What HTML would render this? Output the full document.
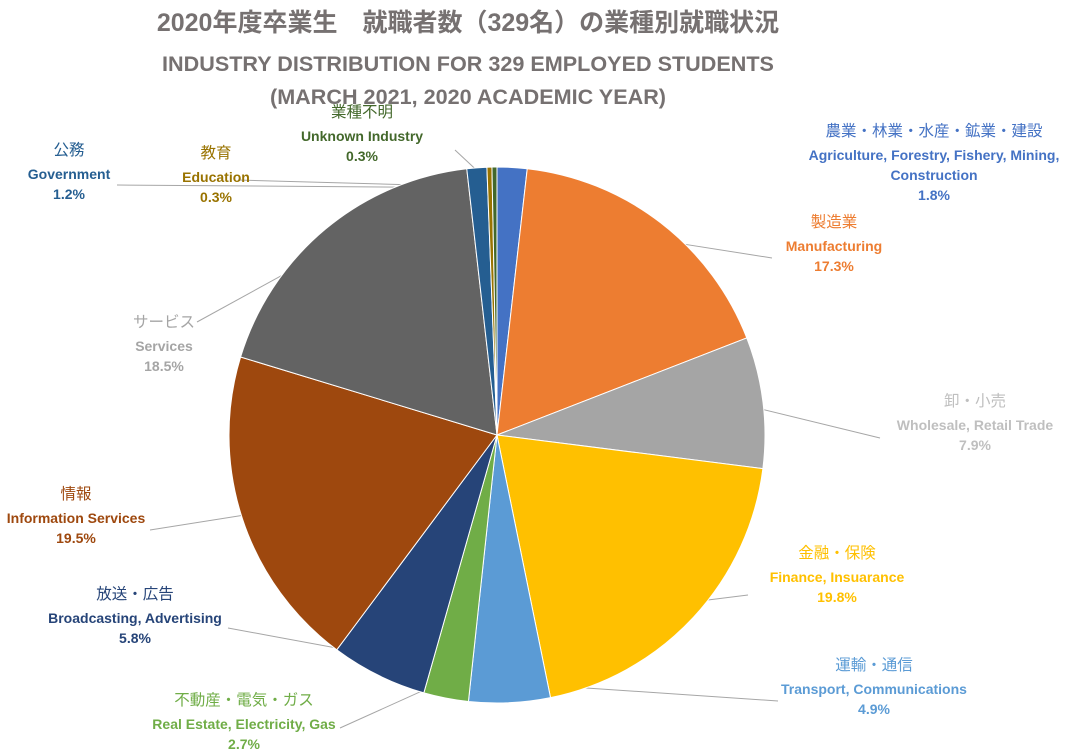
<!DOCTYPE html>
<html><head><meta charset="utf-8">
<style>
body{margin:0;background:#fff;}
svg{display:block;font-family:"Liberation Sans","Noto Sans CJK JP",sans-serif;}
</style></head>
<body>
<svg id="chart" width="1070" height="755" viewBox="0 0 1070 755">
<text x="468" y="31" text-anchor="middle" font-size="25" font-weight="bold" fill="#767171">2020年度卒業生　就職者数（329名）の業種別就職状況</text>
<text x="468" y="71" text-anchor="middle" font-size="21.6" font-weight="bold" fill="#767171">INDUSTRY DISTRIBUTION FOR 329 EMPLOYED STUDENTS</text>
<text x="468" y="104" text-anchor="middle" font-size="21.6" font-weight="bold" fill="#767171">(MARCH 2021, 2020 ACADEMIC YEAR)</text>
<g id="leaders"></g>
<g id="slices"></g>
<g id="labels"></g>
</svg>
<script>
const categoriesJa = ["農業・林業・水産・鉱業・建設","製造業","卸・小売","金融・保険","運輸・通信","不動産・電気・ガス","放送・広告","情報","サービス","公務","教育","業種不明"];
const categoriesEn = [["Agriculture, Forestry, Fishery, Mining,","Construction"],["Manufacturing"],["Wholesale, Retail Trade"],["Finance, Insuarance"],["Transport, Communications"],["Real Estate, Electricity, Gas"],["Broadcasting, Advertising"],["Information Services"],["Services"],["Government"],["Education"],["Unknown Industry"]];
const shares = [1.8,17.3,7.9,19.8,4.9,2.7,5.8,19.5,18.5,1.2,0.3,0.3];
const sliceColors = ["#4472C4","#ED7D31","#A5A5A5","#FFC000","#5B9BD5","#70AD47","#264478","#9E480E","#636363","#255E91","#997300","#43682B"];
const textColors = ["#4472C4","#ED7D31","#BFBFBF","#FFC000","#5B9BD5","#70AD47","#264478","#9E480E","#A5A5A5","#255E91","#997300","#43682B"];
const labelPos = [[934,131],[834,222],[975,401],[837,553],[874,665],[244,700],[135,594],[76,494],[164,322],[69,150],[216,153],[362,112]];
const leaderEnds = [null,[772,258],[880,438],[748,595],[778,701],[340,728],[228,628],[150,530],[197,322],[117,185],[238,180],[455,150]];

const cx=497, cy=435, r=268;
const NS="http://www.w3.org/2000/svg";
const total = shares.reduce((a,b)=>a+b,0);
function angleOf(v){return v/total*2*Math.PI;}
function pt(a,rr){return [cx+rr*Math.sin(a), cy-rr*Math.cos(a)];}
const gS=document.getElementById('slices'), gL=document.getElementById('leaders'), gT=document.getElementById('labels');
let acc=0;
shares.forEach((v,i)=>{
  const a0=angleOf(acc), a1=angleOf(acc+v); acc+=v;
  const p0=pt(a0,r), p1=pt(a1,r);
  const large=(a1-a0)>Math.PI?1:0;
  const path=document.createElementNS(NS,'path');
  path.setAttribute('d',`M${cx},${cy} L${p0[0]},${p0[1]} A${r},${r} 0 ${large} 1 ${p1[0]},${p1[1]} Z`);
  path.setAttribute('fill',sliceColors[i]);
  path.setAttribute('stroke','#fff');
  path.setAttribute('stroke-width','1');
  
  
  gS.appendChild(path);
  const am=(a0+a1)/2;
  if(leaderEnds[i]){
    const pm=pt(am,r-20);
    const ln=document.createElementNS(NS,'line');
    ln.setAttribute('x1',pm[0]);ln.setAttribute('y1',pm[1]);
    ln.setAttribute('x2',leaderEnds[i][0]);ln.setAttribute('y2',leaderEnds[i][1]);
    ln.setAttribute('stroke','#A6A6A6');ln.setAttribute('stroke-width','1');
    
    
    gL.appendChild(ln);
  }
  const [lx,ly]=labelPos[i];
  const g=document.createElementNS(NS,'g');
  
  
  const lines=[[categoriesJa[i],15.5,'normal']].concat(categoriesEn[i].map(s=>[s,14,'bold'])).concat([[v.toFixed(1)+'%',14,'bold']]);
  lines.forEach((ln,k)=>{
    const t=document.createElementNS(NS,'text');
    t.setAttribute('x',lx);
    t.setAttribute('y',ly+5+(k===0?0:24+(k-1)*20));
    t.setAttribute('text-anchor','middle');
    t.setAttribute('font-size',ln[1]);
    t.setAttribute('font-weight',ln[2]);
    t.setAttribute('fill',textColors[i]);
    t.textContent=ln[0];
    g.appendChild(t);
  });
  gT.appendChild(g);
});
</script>
</body></html>
